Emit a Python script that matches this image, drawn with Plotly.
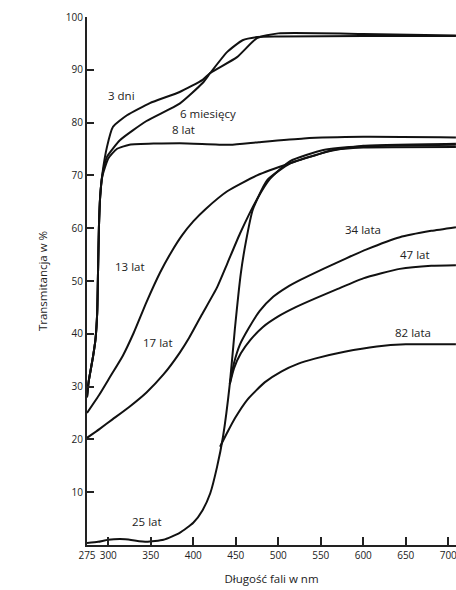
import plotly.graph_objects as go

# ---- data (wavelength nm, transmittance %) ----
wl_3dni = [275, 277, 282, 285, 287, 288, 289, 290.5, 293, 298.5, 305.6, 322, 349, 384, 411, 420, 451.5, 475, 500, 600, 709]
tr_3dni = [28, 31, 35.6, 39, 44, 52, 60, 66, 70.2, 75.4, 79.2, 81.4, 83.7, 85.8, 88.1, 89.4, 92.4, 96.0, 96.9, 96.8, 96.5]

wl_6mies = [275, 277, 282, 285, 287, 288, 289, 290.5, 293, 298.5, 314, 345, 384, 411, 420, 440, 458, 475, 500, 600, 709]
tr_6mies = [28, 31, 35.6, 39, 44, 52, 60, 66, 70.0, 73.5, 76.7, 80.3, 83.6, 87.5, 89.4, 93.4, 95.6, 96.2, 96.3, 96.4, 96.4]

wl_8lat = [275, 277, 282, 285, 287, 288, 289, 290.5, 293, 300, 310, 325, 384, 443, 477, 530, 600, 709]
tr_8lat = [28, 31, 35.6, 39, 44, 52, 60, 66, 69.8, 73.2, 75.0, 75.8, 76.1, 75.8, 76.3, 77.0, 77.3, 77.2]

wl_13lat = [275, 290, 302, 317, 330, 345, 361, 375, 387, 400, 415, 440, 475, 514, 561, 600, 709]
tr_13lat = [25, 28.6, 31.8, 35.8, 40.2, 46, 51.6, 55.7, 58.7, 61.3, 63.7, 67.0, 70, 72.3, 74.6, 75.6, 76]

wl_17lat = [275, 290, 305, 325, 345, 365, 384, 395, 410, 428, 440, 455, 475, 490, 514, 553, 600, 709]
tr_17lat = [20.3, 22, 23.8, 26.2, 28.9, 32.3, 36.4, 39.2, 43.6, 48.8, 53.3, 59, 65.5, 69.3, 72.7, 74.8, 75.5, 75.8]

wl_25lat = [275, 288, 300, 320, 345, 365, 384, 400, 411, 420, 428, 435, 443, 449, 456, 462, 470, 487, 514, 545, 564, 600, 709]
tr_25lat = [0.4, 0.6, 1.0, 1.1, 0.6, 1.0, 2.3, 4.2, 6.6, 9.8, 14.8, 20.5, 30.5, 41, 51.5, 57.5, 63.5, 69.1, 72.3, 73.9, 74.8, 75.3, 75.4]

wl_34lata = [443, 448, 455, 465, 478, 494, 510, 526, 553, 580, 604, 643, 680, 709]
tr_34lata = [30.5, 34.5, 38, 41, 44.3, 47, 48.8, 50.2, 52.3, 54.3, 56, 58.3, 59.5, 60.2]

wl_47lat = [443, 448, 456, 467, 482, 500, 520, 545, 570, 600, 643, 680, 709]
tr_47lat = [30.5, 33.5, 36.3, 38.8, 41.3, 43.3, 45, 46.8, 48.5, 50.5, 52.3, 52.9, 53.0]

wl_82lata = [431.5, 440, 449, 464, 484, 504, 523, 543, 578, 616, 650, 709]
tr_82lata = [18.6, 21.3, 24, 27.6, 30.8, 32.9, 34.3, 35.3, 36.6, 37.6, 38.0, 38.0]

series = [
    ("3 dni", wl_3dni, tr_3dni),
    ("6 miesięcy", wl_6mies, tr_6mies),
    ("8 lat", wl_8lat, tr_8lat),
    ("13 lat", wl_13lat, tr_13lat),
    ("17 lat", wl_17lat, tr_17lat),
    ("25 lat", wl_25lat, tr_25lat),
    ("34 lata", wl_34lata, tr_34lata),
    ("47 lat", wl_47lat, tr_47lat),
    ("82 lata", wl_82lata, tr_82lata),
]

# curve labels (text, x, y) in data units
label_text = ["3 dni", "6 miesięcy", "8 lat", "13 lat", "17 lat", "25 lat", "34 lata", "47 lat", "82 lata"]
label_x = [316, 417, 388, 325.6, 358.5, 345.6, 600, 661, 658.5]
label_y = [85.2, 81.8, 78.6, 52.7, 38.3, 4.4, 59.7, 55.0, 40.2]

x_ticks = [275, 300, 350, 400, 450, 500, 550, 600, 650, 700]
y_ticks = [10, 20, 30, 40, 50, 60, 70, 80, 90, 100]

fig = go.Figure()
for name, xs, ys in series:
    fig.add_trace(go.Scatter(
        x=xs, y=ys, mode="lines", name=name,
        line=dict(color="#111111", width=2, shape="spline", smoothing=0.5),
        showlegend=False, hoverinfo="skip",
    ))

for t, xv, yv in zip(label_text, label_x, label_y):
    fig.add_annotation(x=xv, y=yv, text=t, showarrow=False,
                       font=dict(family="Open Sans, sans-serif", size=11.5, color="#222222"))

fig.update_layout(
    width=456, height=590,
    margin=dict(l=87, r=0, t=17, b=45),
    paper_bgcolor="white", plot_bgcolor="white",
    font=dict(family="Open Sans, sans-serif", color="#222222"),
)
fig.update_xaxes(
    range=[275, 709.1], tickvals=x_ticks, ticktext=[str(v) for v in x_ticks],
    ticks="inside", ticklen=8, tickwidth=1.5, tickcolor="#222222",
    showline=True, linecolor="#222222", linewidth=2,
    showgrid=False, zeroline=False, ticklabeloverflow="allow",
    tickfont=dict(size=10, color="#222222"),
    title=dict(text="Długość fali w nm", font=dict(size=11.5, color="#222222"), standoff=14),
)
fig.update_yaxes(
    range=[0, 100], tickvals=y_ticks, ticktext=[str(v) for v in y_ticks],
    ticks="inside", ticklen=7, tickwidth=1.5, tickcolor="#222222",
    showline=True, linecolor="#222222", linewidth=2,
    showgrid=False, zeroline=False,
    tickfont=dict(size=10, color="#222222"),
    title=dict(text="Transmitancja w %", font=dict(size=11.5, color="#222222"), standoff=16),
)

fig.write_html("out.html")
